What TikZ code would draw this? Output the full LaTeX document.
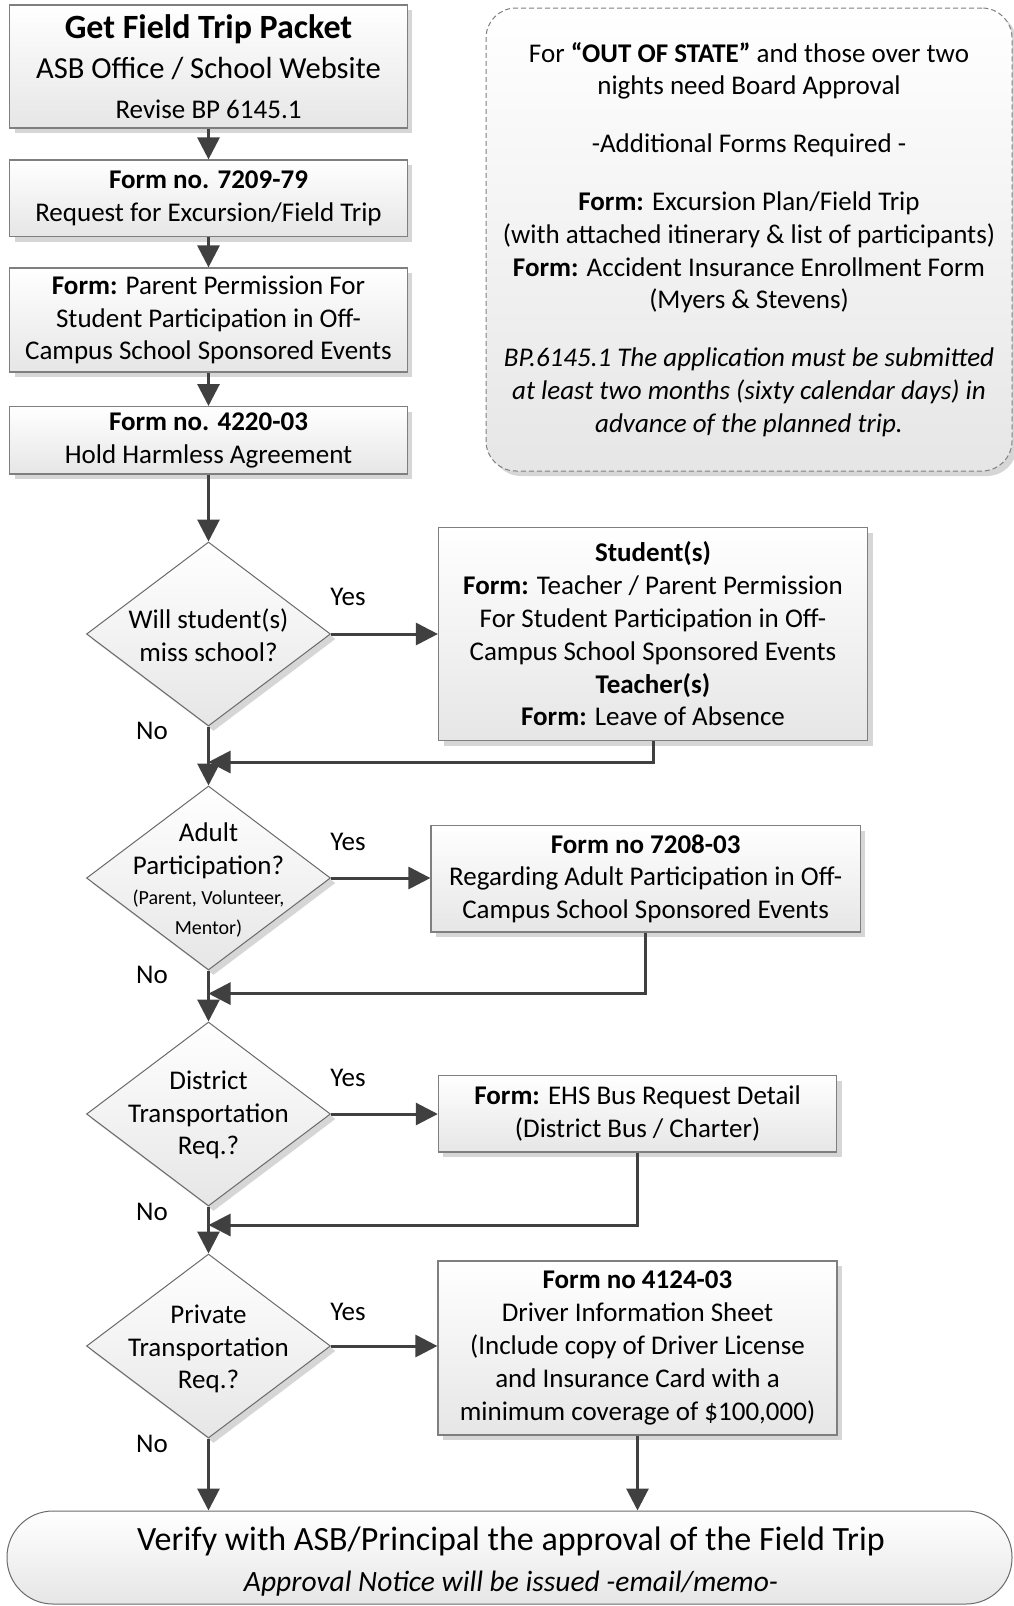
\documentclass[tikz,border=0pt]{standalone}
\usepackage{fontspec}
\setmainfont{Carlito}
\usetikzlibrary{arrows.meta,shapes.geometric,shadows,calc}
\definecolor{arr}{HTML}{404040}
\definecolor{bord}{HTML}{7F7F7F}
\definecolor{dbord}{HTML}{6A6A6A}
\definecolor{shad}{HTML}{D6D6D6}
\definecolor{botc}{HTML}{E6E6E6}
\begin{document}
\begin{tikzpicture}[x=1pt,y=-1pt,
  shadowed/.style={drop shadow={shadow xshift=5pt,shadow yshift=-5pt,fill=shad,opacity=1}},
  boxstyle/.style={draw=bord,line width=1.2pt,top color=white,bottom color=botc,shadowed,
    align=center,inner sep=0pt,font=\fontsize{27}{32.8}\selectfont},
  decstyle/.style={diamond,draw=dbord,line width=1pt,top color=white,bottom color=botc,shadowed,
    inner sep=0pt,minimum width=244pt,minimum height=184pt},
  dectext/.style={align=center,inner sep=0pt,font=\fontsize{27}{32.8}\selectfont},
  flow/.style={draw=arr,line width=3pt,-{Triangle[length=22pt,width=22pt]}},
  lbl/.style={inner sep=0pt,font=\fontsize{27}{32.8}\selectfont}
]
\useasboundingbox (0,0) rectangle (1013,1606);

% note box
\node[draw=bord,line width=1pt,dash pattern=on 5pt off 3pt,rounded corners=30pt,
  top color=white,bottom color=botc,shadowed,minimum width=526pt,minimum height=463pt,
  align=center,inner sep=0pt,font=\fontsize{27}{32.8}\selectfont] (note) at (749,239.5)
  {For \textbf{“OUT OF STATE”} and those over two\\ nights need Board Approval\\[25pt]
   -Additional Forms Required -\\[25pt]
   \textbf{Form:} Excursion Plan/Field Trip\\
   (with attached itinerary \& list of participants)\\
   \textbf{Form:} Accident Insurance Enrollment Form\\
   (Myers \& Stevens)\\[25pt]
   \itshape BP.6145.1 The application must be submitted\\
   \itshape at least two months (sixty calendar days) in\\
   \itshape advance of the planned trip.};

% main column boxes
\node[boxstyle,font=\fontsize{27}{40}\selectfont,minimum width=397.5pt,minimum height=123pt] (b1) at (208.5,66.5)
  {{\fontsize{34}{40}\selectfont\bfseries Get Field Trip Packet}\\
   {\fontsize{30.6}{40}\selectfont ASB Office / School Website}\\
   Revise BP 6145.1};
\node[boxstyle,minimum width=397.5pt,minimum height=76.6pt] (b2) at (208.5,198.3)
  {\textbf{Form no. 7209-79}\\ Request for Excursion/Field Trip};
\node[boxstyle,minimum width=397.5pt,minimum height=104pt] (b3) at (208.5,320)
  {\textbf{Form:} Parent Permission For\\ Student Participation in Off-\\ Campus School Sponsored Events};
\node[boxstyle,minimum width=397.5pt,minimum height=67.4pt] (b4) at (208.5,440.3)
  {\textbf{Form no. 4220-03}\\ Hold Harmless Agreement};

% decisions
\node[decstyle] (d1) at (208.5,634) {};
\node[dectext] (d1t) at (208.5,635) {Will student(s)\\ miss school?};
\node[decstyle] (d2) at (208.5,878) {};
\node[dectext] (d2t) at (208.5,880) {Adult\\ Participation?\\[-3pt]
  {\fontsize{20}{24}\selectfont (Parent, Volunteer,}\\[-3pt] {\fontsize{20}{24}\selectfont Mentor)}};
\node[decstyle] (d3) at (208.5,1114) {};
\node[dectext] (d3t) at (208.5,1115) {District\\ Transportation\\ Req.?};
\node[decstyle] (d4) at (208.5,1346) {};
\node[dectext] (d4t) at (208.5,1349) {Private\\ Transportation\\ Req.?};

% right-hand boxes
\node[boxstyle,minimum width=429pt,minimum height=213pt] (s1) at (653,634)
  {\textbf{Student(s)}\\ \textbf{Form:} Teacher / Parent Permission\\ For Student Participation in Off-\\
   Campus School Sponsored Events\\ \textbf{Teacher(s)}\\ \textbf{Form:} Leave of Absence};
\node[boxstyle,minimum width=429.4pt,minimum height=106.4pt] (f2) at (645.7,878.8)
  {\textbf{Form no 7208-03}\\ Regarding Adult Participation in Off-\\ Campus School Sponsored Events};
\node[boxstyle,minimum width=398.4pt,minimum height=76.5pt] (f3) at (637.6,1113.8)
  {\textbf{Form:} EHS Bus Request Detail\\ (District Bus / Charter)};
\node[boxstyle,minimum width=399pt,minimum height=174pt] (f4) at (637.5,1348)
  {\textbf{Form no 4124-03}\\ Driver Information Sheet\\ (Include copy of Driver License\\
   and Insurance Card with a\\ minimum coverage of \$100,000)};

% terminal
\node[draw=dbord,line width=1pt,rounded corners=46pt,top color=white,bottom color=botc,
  minimum width=1005pt,minimum height=93pt,inner sep=0pt] (term) at (509.5,1557.5) {};
\node[align=center,inner sep=0pt,font=\fontsize{34}{41}\selectfont] (termt) at (511,1562)
  {Verify with ASB/Principal the approval of the Field Trip\\
   {\fontsize{29.5}{41}\selectfont\itshape Approval Notice will be issued -email/memo-}};

% labels
\node[lbl] (y1) at (348,597) {Yes};
\node[lbl] (n1) at (152,731) {No};
\node[lbl] (y2) at (348,842) {Yes};
\node[lbl] (n2) at (152,975) {No};
\node[lbl] (y3) at (348,1078) {Yes};
\node[lbl] (n3) at (152,1212) {No};
\node[lbl] (y4) at (348,1312) {Yes};
\node[lbl] (n4) at (152,1444) {No};

% junctions
\coordinate (j1) at (208.5,762);
\coordinate (j2) at (208.5,993.6);
\coordinate (j3) at (208.5,1225);

% connectors
\draw[flow] (b1.south) -- (b2.north);
\draw[flow] (b2.south) -- (b3.north);
\draw[flow] (b3.south) -- (b4.north);
\draw[flow] (b4.south) -- (d1.north);
\draw[flow] (d1.east) -- (d1.east -| s1.west);
\draw[flow] (s1.south) |- (j1);
\draw[flow] (d1.south) -- (d2.north);
\draw[flow] (d2.east) -- (d2.east -| f2.west);
\draw[flow] (f2.south) |- (j2);
\draw[flow] (d2.south) -- (d3.north);
\draw[flow] (d3.east) -- (d3.east -| f3.west);
\draw[flow] (f3.south) |- (j3);
\draw[flow] (d3.south) -- (d4.north);
\draw[flow] (d4.east) -- (d4.east -| f4.west);
\draw[flow] (d4.south) -- (d4.south |- term.north);
\draw[flow] (f4.south) -- (f4.south |- term.north);
\end{tikzpicture}
\end{document}
